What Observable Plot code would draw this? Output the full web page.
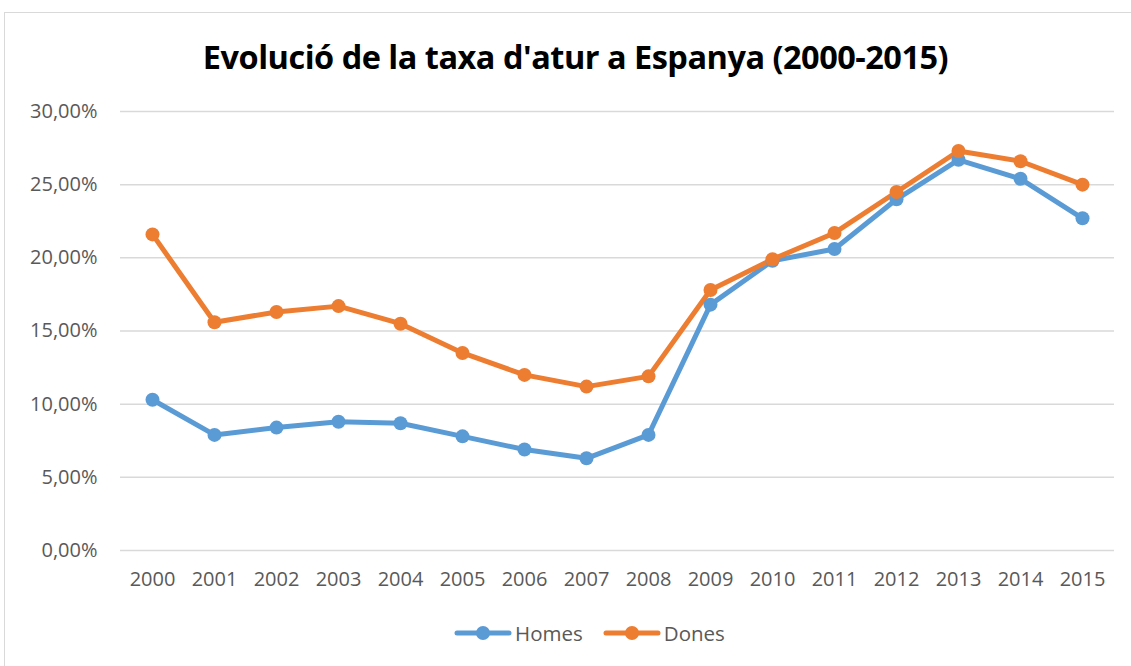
<!DOCTYPE html>
<html>
<head>
<meta charset="utf-8">
<script src="https://cdn.jsdelivr.net/npm/d3@7"></script>
<script src="https://cdn.jsdelivr.net/npm/@observablehq/plot@0.6"></script>
<style>
  html, body { margin: 0; padding: 0; background: #fff; }
  body { width: 1131px; height: 666px; overflow: hidden; position: relative; font-family: "Open Sans", sans-serif; }
  #frame { position: absolute; left: 4px; top: 12px; width: 1140px; height: 700px; border: 1px solid #d9d9d9; box-sizing: border-box; }
  #title { position: absolute; left: 0; top: 33px; width: 1151px; text-align: center; font-size: 32.5px; font-weight: 700; color: #000; line-height: 48px; letter-spacing: -0.5px; }
  #chart { position: absolute; left: 0; top: 90px; }
  #legend { position: absolute; left: 24px; top: 619px; width: 1131px; display: flex; justify-content: center; align-items: center; font-size: 20.5px; color: #595959; }
  .item { display: flex; align-items: center; margin: 0 10px; }
  .item svg { margin-right: 3px; }
</style>
</head>
<body>
<div id="frame"></div>
<div id="title">Evolució de la taxa d'atur a Espanya (2000-2015)</div>
<div id="chart"></div>
<div id="legend"></div>
<script>
const years = ["2000","2001","2002","2003","2004","2005","2006","2007","2008","2009","2010","2011","2012","2013","2014","2015"];
const homes = [10.3, 7.9, 8.4, 8.8, 8.7, 7.8, 6.9, 6.3, 7.9, 16.8, 19.8, 20.6, 24.0, 26.7, 25.4, 22.7];
const dones = [21.6, 15.6, 16.3, 16.7, 15.5, 13.5, 12.0, 11.2, 11.9, 17.8, 19.9, 21.7, 24.5, 27.3, 26.6, 25.0];
const seriesNames = ["Homes", "Dones"];
const seriesColors = ["#5b9bd5", "#ed7d31"];
const yTicks = [0, 5, 10, 15, 20, 25, 30];

const data = [];
seriesNames.forEach((s, si) => {
  const vals = si === 0 ? homes : dones;
  years.forEach((y, i) => data.push({ year: y, value: vals[i], series: s }));
});

const fmt = d => d.toFixed(2).replace(".", ",") + "%";

const plot = Plot.plot({
  width: 1131,
  height: 510,
  marginLeft: 120,
  marginRight: 17,
  marginTop: 21,
  marginBottom: 50,
  style: { fontFamily: "Open Sans, sans-serif", fontSize: "20px", color: "#595959", background: "transparent" },
  x: { type: "point", domain: years, padding: 0.5, label: null, tickSize: 0, tickPadding: 21 },
  y: { domain: [0, 30], ticks: yTicks, tickFormat: fmt, label: null, tickSize: 0, tickPadding: 23 },
  color: { domain: seriesNames, range: seriesColors },
  marks: [
    Plot.ruleY(yTicks, { stroke: "#d9d9d9", strokeWidth: 1.5 }),
    Plot.line(data, { x: "year", y: "value", z: "series", stroke: "series", strokeWidth: 5, strokeLinejoin: "round", strokeLinecap: "round" }),
    Plot.dot(data, { x: "year", y: "value", fill: "series", r: 7, stroke: null })
  ]
});
document.getElementById("chart").appendChild(plot);

const legend = document.getElementById("legend");
seriesNames.forEach((s, i) => {
  const div = document.createElement("div");
  div.className = "item";
  div.innerHTML = `<svg width="58" height="20"><line x1="3" y1="10" x2="55" y2="10" stroke="${seriesColors[i]}" stroke-width="5" stroke-linecap="round"/><circle cx="29" cy="10" r="7" fill="${seriesColors[i]}"/></svg><span>${s}</span>`;
  legend.appendChild(div);
});
</script>
</body>
</html>
